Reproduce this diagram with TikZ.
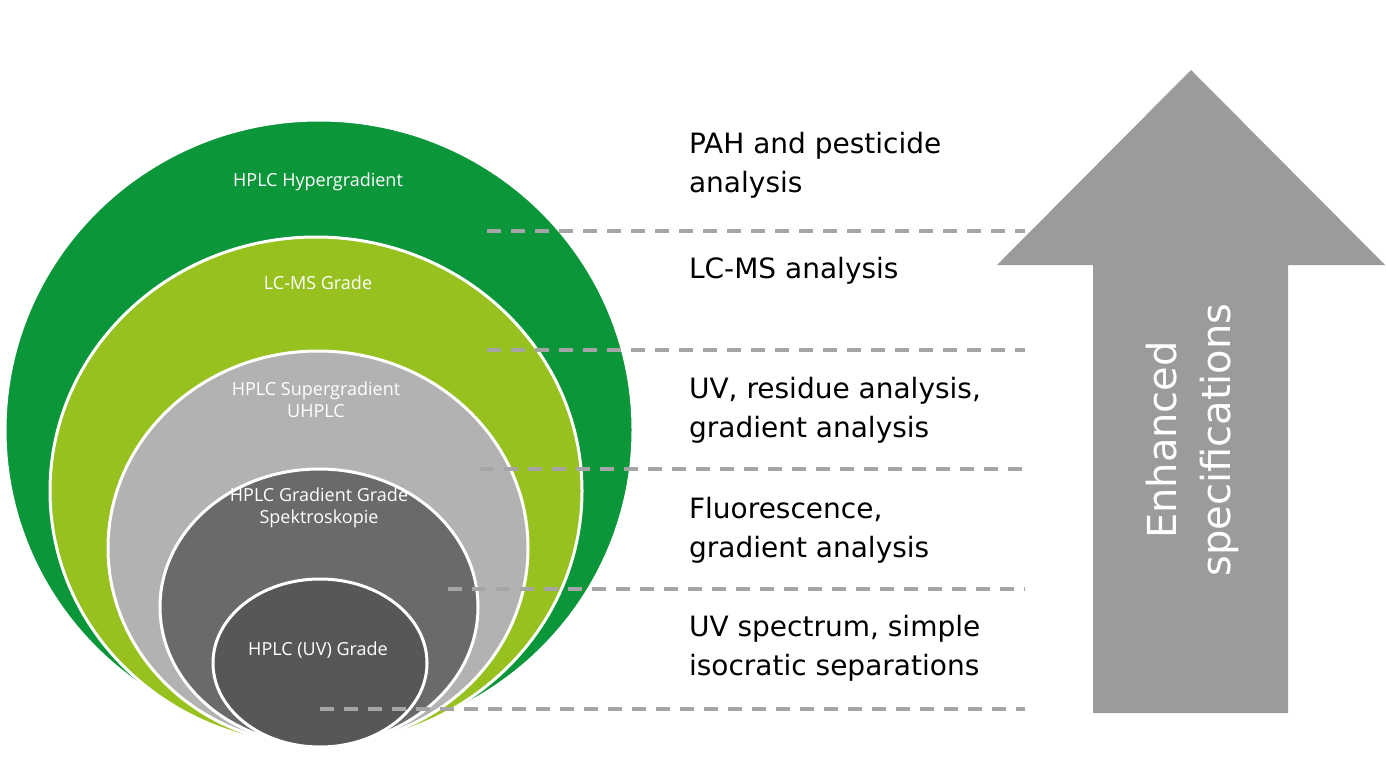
\documentclass[tikz,border=0pt]{standalone}
\usepackage{fontspec}
\setmainfont{Open Sans}
\newfontfamily\tahfont{DejaVu Sans}
\definecolor{gDark}{HTML}{0C963A}
\definecolor{gLight}{HTML}{97C11F}
\definecolor{greyA}{HTML}{B3B2B2}
\definecolor{greyB}{HTML}{6B6A6A}
\definecolor{greyC}{HTML}{585757}
\definecolor{arrowgrey}{HTML}{9B9B9B}
\definecolor{dashgrey}{HTML}{A5A5A5}
\begin{document}
\begin{tikzpicture}[x=0.5pt,y=-0.5pt,
    ring/.style={draw=white,line width=1.5pt},
    ringlabel/.style={text=white,font=\fontsize{9}{11}\selectfont,align=center},
    level/.style={dashgrey,line width=1.6pt,dash pattern=on 7pt off 5pt},
    usage/.style={anchor=north west,align=left,font=\tahfont\fontsize{14}{19.5}\selectfont}]
  \useasboundingbox (0,0) rectangle (1386,771);
  \fill[ring,fill=gDark] (319,430) ellipse [x radius=314,y radius=310];
  \fill[ring,fill=gLight] (316,491) ellipse [x radius=266,y radius=254];
  \fill[ring,fill=greyA] (318,548) ellipse [x radius=210,y radius=197];
  \fill[ring,fill=greyB] (319,607) ellipse [x radius=159,y radius=138];
  \fill[ring,fill=greyC] (320,663) ellipse [x radius=107,y radius=84];
  \filldraw[ring,fill=gDark] (319,430) ellipse [x radius=314,y radius=310];
  \filldraw[ring,fill=gLight] (316,491) ellipse [x radius=266,y radius=254];
  \filldraw[ring,fill=greyA] (318,548) ellipse [x radius=210,y radius=197];
  \filldraw[ring,fill=greyB] (319,607) ellipse [x radius=159,y radius=138];
  \filldraw[ring,fill=greyC] (320,663) ellipse [x radius=107,y radius=84];
  % circle labels
  \node[ringlabel] (hyper) at (318,182) {HPLC Hypergradient};
  \node[ringlabel] (lcms) at (318,283) {LC-MS Grade};
  \node[ringlabel] (super) at (316,400) {HPLC Supergradient\\UHPLC};
  \node[ringlabel] (grad) at (319,508) {HPLC Gradient Grade\\Spektroskopie};
  \node[ringlabel] (uv) at (318,650) {HPLC (UV) Grade};
  % level lines
  \coordinate (l1a) at (487,231); \coordinate (l1b) at (1025,231);
  \coordinate (l2a) at (487,350); \coordinate (l2b) at (1025,350);
  \coordinate (l3a) at (480,469); \coordinate (l3b) at (1025,469);
  \coordinate (l4a) at (448,589); \coordinate (l4b) at (1025,589);
  \coordinate (l5a) at (320,709); \coordinate (l5b) at (1025,709);
  \foreach \i in {1,...,5}
    \draw[level] (l\i a) -- (l\i b);
  % usage texts
  \node[usage] (u1) at (682,125) {PAH and pesticide\\analysis};
  \node[usage] (u2) at (682,250) {LC-MS analysis};
  \node[usage] (u3) at (682,370) {UV, residue analysis,\\gradient analysis};
  \node[usage] (u4) at (682,490) {Fluorescence,\\gradient analysis};
  \node[usage] (u5) at (682,608) {UV spectrum, simple\\isocratic separations};
  % big arrow
  \fill[arrowgrey] (1093,713) -- (1093,265) -- (997,265) -- (1191,70)
    -- (1385,265) -- (1288,265) -- (1288,713) -- cycle;
  \node[rotate=90,text=white,align=center,font=\tahfont\fontsize{20}{27}\selectfont]
    (enh) at (1192,440) {Enhanced\\specifications};
\end{tikzpicture}
\end{document}
